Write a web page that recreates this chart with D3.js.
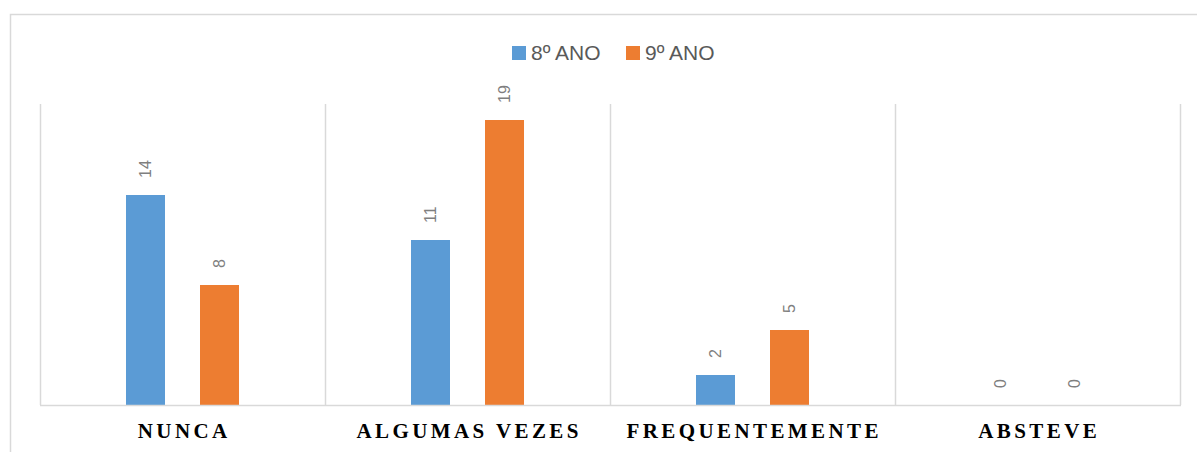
<!DOCTYPE html>
<html>
<head>
<meta charset="utf-8">
<script src="https://cdn.jsdelivr.net/npm/d3@7"></script>
<style>
  body { margin: 0; background: #fff; }
  svg { display: block; }
</style>
</head>
<body>
<svg id="chart" width="1197" height="452"></svg>
<script>
// categories and series values
const categories = ['NUNCA', 'ALGUMAS VEZES', 'FREQUENTEMENTE', 'ABSTEVE'];
const seriesNames = ['8º ANO', '9º ANO'];
const ano8 = [14, 11, 2, 0];
const ano9 = [8, 19, 5, 0];
const colors = ['#5B9BD5', '#ED7D31'];

const data = categories.map((c, i) => ({ cat: c, values: [ano8[i], ano9[i]] }));

const svg = d3.select('#chart');

const margin = { top: 105, left: 40, right: 17, bottom: 47 };
const width = 1197 - margin.left - margin.right;
const height = 452 - margin.top - margin.bottom;

// outer chart frame (only top and left edges show in the crop)
svg.append('path')
    .attr('d', 'M10.5,452 V14.5 H1197')
    .attr('fill', 'none')
    .attr('stroke', '#d9d9d9')
    .attr('stroke-width', 1.5);

const chart = svg.append('g')
    .attr('transform', `translate(${margin.left}, ${margin.top})`);

const x0 = d3.scaleBand()
    .domain(categories)
    .range([0, width])
    .padding(0);

const x1 = d3.scaleBand()
    .domain(seriesNames)
    .range([0, x0.bandwidth()])
    .paddingInner(0.473)
    .paddingOuter(1.162);

const y = d3.scaleLinear()
    .domain([0, 20])
    .range([height, 0]);

// category separators
chart.selectAll('.sep')
    .data(d3.range(categories.length + 1))
    .enter()
    .append('line')
    .attr('x1', (d) => Math.round(d * x0.step()) + 0.5)
    .attr('x2', (d) => Math.round(d * x0.step()) + 0.5)
    .attr('y1', -1)
    .attr('y2', height)
    .attr('stroke', '#d9d9d9')
    .attr('stroke-width', 1.5);

const groups = chart.selectAll('.grp')
    .data(data)
    .enter()
    .append('g')
    .attr('transform', (d) => `translate(${x0(d.cat)}, 0)`);

groups.selectAll('rect')
    .data((d) => d.values.map((v, i) => ({ s: seriesNames[i], v: v, i: i })))
    .enter()
    .append('rect')
    .attr('x', (d) => x1(d.s))
    .attr('y', (d) => y(d.v))
    .attr('width', x1.bandwidth())
    .attr('height', (d) => height - y(d.v))
    .attr('fill', (d) => colors[d.i]);

// rotated data labels
groups.selectAll('.lbl')
    .data((d) => d.values.map((v, i) => ({ s: seriesNames[i], v: v })))
    .enter()
    .append('text')
    .attr('transform', (d) => `translate(${x1(d.s) + x1.bandwidth() / 2}, ${y(d.v) - 17}) rotate(-90)`)
    .attr('dy', '0.35em')
    .attr('text-anchor', 'start')
    .attr('font-family', 'Liberation Sans, Arial, sans-serif')
    .attr('font-size', 16)
    .attr('fill', '#7f7f7f')
    .text((d) => d.v);

// baseline
chart.append('line')
    .attr('x1', 0)
    .attr('x2', width + 1)
    .attr('y1', height + 0.5)
    .attr('y2', height + 0.5)
    .attr('stroke', '#d9d9d9')
    .attr('stroke-width', 1.5);

// category labels
const spacing = 3.4;
chart.selectAll('.cat')
    .data(categories)
    .enter()
    .append('text')
    .attr('x', (d) => x0(d) + x0.bandwidth() / 2 + spacing / 2)
    .attr('y', height + 33)
    .attr('text-anchor', 'middle')
    .attr('font-family', 'Liberation Serif, Times New Roman, serif')
    .attr('font-weight', 'bold')
    .attr('font-size', 21)
    .attr('letter-spacing', spacing)
    .attr('fill', '#000')
    .text((d) => d);

// legend
const legendX = [512, 626];
const legend = svg.selectAll('.leg')
    .data(seriesNames)
    .enter()
    .append('g')
    .attr('transform', (d, i) => `translate(${legendX[i]}, 46)`);

legend.append('rect')
    .attr('width', 14)
    .attr('height', 14)
    .attr('fill', (d, i) => colors[i]);

legend.append('text')
    .attr('x', 19)
    .attr('y', 14)
    .attr('font-family', 'Liberation Sans, Arial, sans-serif')
    .attr('font-size', 21)
    .attr('fill', '#595959')
    .text((d) => d);
</script>
</body>
</html>
